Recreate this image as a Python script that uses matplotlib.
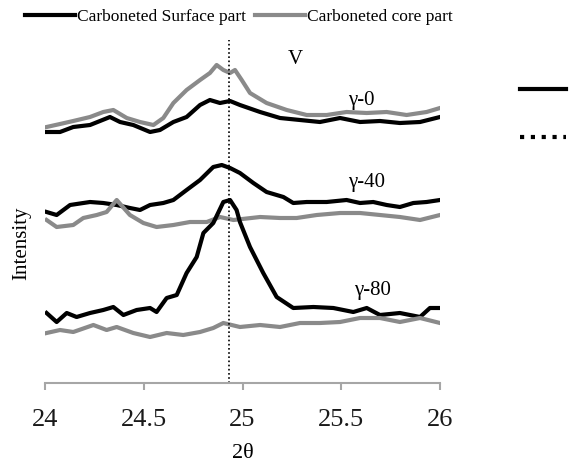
import matplotlib
matplotlib.use("Agg")
import matplotlib.pyplot as plt
from matplotlib.lines import Line2D

plt.rcParams['font.family'] = ['Liberation Serif', 'DejaVu Serif']

# 2theta / intensity (arbitrary units, curves stacked)
x_surf0 = [24.008, 24.076, 24.143, 24.228, 24.329, 24.380, 24.447, 24.532, 24.582, 24.650,
           24.717, 24.785, 24.835, 24.886, 24.937, 24.987, 25.089, 25.190, 25.291, 25.392,
           25.494, 25.595, 25.696, 25.797, 25.899, 26.0]
y_surf0 = [268, 268, 273, 275, 283, 278, 275, 268, 270, 278,
           283, 295, 300, 297, 299, 295, 288, 282, 280, 278,
           282, 278, 279, 277, 278, 283]

x_core0 = [24.008, 24.076, 24.143, 24.228, 24.295, 24.346, 24.414, 24.481, 24.549, 24.599,
           24.650, 24.717, 24.785, 24.835, 24.869, 24.903, 24.937, 24.962, 24.996, 25.038,
           25.122, 25.224, 25.325, 25.426, 25.527, 25.629, 25.730, 25.831, 25.932, 26.0]
y_core0 = [273, 276, 279, 283, 288, 290, 282, 278, 275, 282,
           297, 310, 320, 327, 335, 330, 327, 330, 320, 307,
           297, 290, 285, 285, 288, 287, 288, 285, 288, 292]

x_surf40 = [24.008, 24.059, 24.127, 24.194, 24.228, 24.295, 24.363, 24.430, 24.481, 24.532,
            24.599, 24.650, 24.717, 24.785, 24.852, 24.895, 24.937, 24.987, 25.055, 25.122,
            25.207, 25.257, 25.325, 25.426, 25.527, 25.595, 25.662, 25.730, 25.797, 25.865,
            25.932, 26.0]
y_surf40 = [188, 185, 195, 197, 198, 197, 195, 192, 190, 195,
            197, 200, 210, 220, 233, 235, 232, 227, 217, 208,
            203, 197, 198, 198, 200, 197, 198, 195, 193, 197,
            198, 200]

x_core40 = [24.008, 24.059, 24.143, 24.194, 24.262, 24.312, 24.363, 24.430, 24.498, 24.565,
            24.650, 24.734, 24.819, 24.886, 24.954, 25.089, 25.190, 25.274, 25.376, 25.494,
            25.595, 25.696, 25.797, 25.899, 26.0]
y_core40 = [180, 173, 175, 182, 185, 188, 200, 185, 177, 173,
            175, 178, 178, 183, 180, 183, 182, 182, 185, 187,
            187, 185, 183, 180, 185]

x_surf80 = [24.008, 24.059, 24.110, 24.160, 24.228, 24.295, 24.346, 24.397, 24.464, 24.532,
            24.565, 24.616, 24.667, 24.717, 24.768, 24.802, 24.852, 24.903, 24.937, 24.970,
            24.987, 25.038, 25.105, 25.173, 25.257, 25.359, 25.460, 25.561, 25.629, 25.696,
            25.797, 25.899, 25.949, 26.0]
y_surf80 = [87, 78, 87, 83, 87, 90, 93, 85, 90, 92,
            88, 102, 105, 127, 143, 167, 177, 198, 200, 190,
            178, 153, 127, 103, 92, 93, 92, 88, 92, 85,
            87, 83, 92, 92]

x_core80 = [24.008, 24.076, 24.143, 24.245, 24.312, 24.363, 24.447, 24.532, 24.616, 24.700,
            24.785, 24.852, 24.903, 24.987, 25.089, 25.190, 25.291, 25.392, 25.494, 25.595,
            25.696, 25.797, 25.899, 26.0]
y_core80 = [67, 70, 68, 75, 70, 73, 67, 63, 67, 65,
            68, 72, 77, 73, 75, 73, 77, 77, 78, 82,
            82, 78, 82, 77]

peak_pos = 24.93
xticks = [24, 24.5, 25, 25.5, 26]
xtick_labels = ['24', '24.5', '25', '25.5', '26']

BLACK = '#000000'
GRAY = '#8a8a8a'

fig = plt.figure(figsize=(5.76, 4.66), dpi=100)
ax = fig.add_axes([45 / 576, 1 - 383 / 466, 395 / 576, 343 / 466])

lw = 3.0
ax.plot(x_surf0, y_surf0, color=BLACK, lw=lw, label='Carboneted Surface part')
ax.plot(x_core0, y_core0, color=GRAY, lw=lw, label='Carboneted core part')
ax.plot(x_surf40, y_surf40, color=BLACK, lw=lw)
ax.plot(x_core40, y_core40, color=GRAY, lw=lw)
ax.plot(x_surf80, y_surf80, color=BLACK, lw=lw)
ax.plot(x_core80, y_core80, color=GRAY, lw=lw)

ax.axvline(peak_pos, color='black', lw=1.2, linestyle=(0, (1, 1.5)))

ax.set_xlim(24, 26)
ax.set_ylim(17, 360)
ax.set_xticks(xticks)
ax.set_xticklabels(xtick_labels)
ax.set_yticks([])
for s in ['top', 'right', 'left']:
    ax.spines[s].set_visible(False)
ax.spines['bottom'].set_color('#a6a6a6')
ax.spines['bottom'].set_linewidth(1.5)
ax.tick_params(axis='x', direction='out', length=5, width=1.5, color='#a6a6a6',
               labelsize=19, pad=14, labelcolor='#1a1a1a')

fig.text(22 / 576, 1 - 243 / 466, 'Intensity', fontsize=15, rotation=90,
         ha='center', va='center')
fig.text(243 / 576, 1 - 454 / 466, '2θ', fontsize=16, ha='center', va='center')

# peak labels
ax.text(25.27, 340, 'V', fontsize=15, ha='center', va='center')
ax.text(25.6, 300, 'γ-0', fontsize=15, ha='center', va='center')
ax.text(25.63, 218, 'γ-40', fontsize=15, ha='center', va='center')
ax.text(25.66, 110, 'γ-80', fontsize=15, ha='center', va='center')

fig.legend(loc='upper left', bbox_to_anchor=(25 / 576, 1 - 9 / 466), ncol=2,
           frameon=False, fontsize=12.5, handlelength=2.9, handletextpad=0.1,
           columnspacing=0.5, borderaxespad=0, borderpad=0)

# cut-off legend keys on the right
fig.add_artist(Line2D([520 / 576, 566 / 576], [1 - 89 / 466, 1 - 89 / 466],
                      color='black', lw=3))
fig.add_artist(Line2D([520 / 576, 566 / 576], [1 - 137 / 466, 1 - 137 / 466],
                      color='black', lw=3, linestyle=(0, (1, 1.6))))

fig.savefig('out.png', dpi=100)
